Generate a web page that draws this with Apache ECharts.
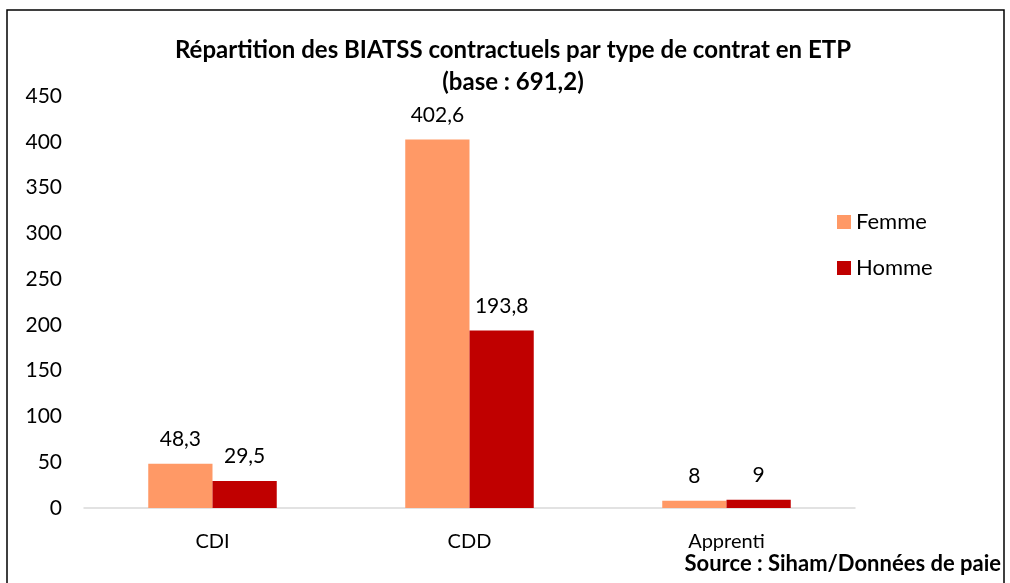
<!DOCTYPE html>
<html>
<head>
    <meta charset="UTF-8">
    <title>Répartition des BIATSS contractuels</title>
    <script src="https://cdn.jsdelivr.net/npm/echarts@6/dist/echarts.min.js"></script>
    <style>
        html, body { margin: 0; padding: 0; background: #fff; }
        #main { width: 1010px; height: 583px; }
    </style>
</head>
<body>
<div id="main"></div>
<script type="text/javascript">
    // données
    var categories = ['CDI', 'CDD', 'Apprenti'];
    var femme = [48.3, 402.6, 8];
    var homme = [29.5, 193.8, 9];
    var yTicks = [0, 50, 100, 150, 200, 250, 300, 350, 400, 450];

    var police = 'Lato, "Open Sans", sans-serif';

    function virgule(p) {
        return String(p.value).replace('.', ',');
    }

    var myChart = echarts.init(document.getElementById('main'));
    var option = {
        animation: false,
        textStyle: { fontFamily: police },
        grid: { left: 84, right: 155, top: 96, bottom: 75 },
        legend: {
            orient: 'vertical',
            left: 832,
            top: 206,
            itemWidth: 14,
            itemHeight: 14,
            itemGap: 24,
            icon: 'rect',
            textStyle: { fontSize: 22, color: '#000', fontFamily: police },
            data: ['Femme', 'Homme']
        },
        xAxis: {
            type: 'category',
            data: categories,
            axisLine: { lineStyle: { color: '#d9d9d9', width: 1.5 } },
            axisTick: { show: false },
            axisLabel: { fontSize: 20, color: '#000', margin: 24 }
        },
        yAxis: {
            type: 'value',
            min: yTicks[0],
            max: yTicks[yTicks.length - 1],
            interval: 50,
            axisLine: { show: false },
            axisTick: { show: false },
            splitLine: { show: false },
            axisLabel: { fontSize: 21, color: '#000', margin: 22 }
        },
        series: [
            {
                name: 'Femme',
                type: 'bar',
                data: femme,
                barGap: '0%',
                barCategoryGap: '50%',
                itemStyle: { color: '#FF9966' },
                label: { show: true, position: 'top', distance: 14, fontSize: 21, color: '#000', formatter: virgule }
            },
            {
                name: 'Homme',
                type: 'bar',
                data: homme,
                barGap: '0%',
                barCategoryGap: '50%',
                itemStyle: { color: '#C00000' },
                label: { show: true, position: 'top', distance: 14, fontSize: 21, color: '#000', formatter: virgule }
            }
        ],
        graphic: [
            {
                type: 'polyline',
                shape: { points: [[7, 583], [7, 10], [1004, 10], [1004, 583]] },
                style: { stroke: '#000', lineWidth: 1.5, fill: null }
            },
            {
                type: 'text',
                x: 513, y: 50,
                style: {
                    text: 'Répartition des BIATSS contractuels par type de contrat en ETP',
                    font: 'bold 24px ' + police, fill: '#000',
                    textAlign: 'center', textVerticalAlign: 'middle'
                }
            },
            {
                type: 'text',
                x: 513, y: 82,
                style: {
                    text: '(base : 691,2)',
                    font: 'bold 24px ' + police, fill: '#000',
                    textAlign: 'center', textVerticalAlign: 'middle'
                }
            },
            {
                type: 'text',
                x: 1001, y: 564,
                style: {
                    text: 'Source : Siham/Données de paie',
                    font: 'bold 22px ' + police, fill: '#000',
                    textAlign: 'right', textVerticalAlign: 'middle'
                }
            }
        ]
    };
    myChart.setOption(option);
</script>
</body>
</html>
